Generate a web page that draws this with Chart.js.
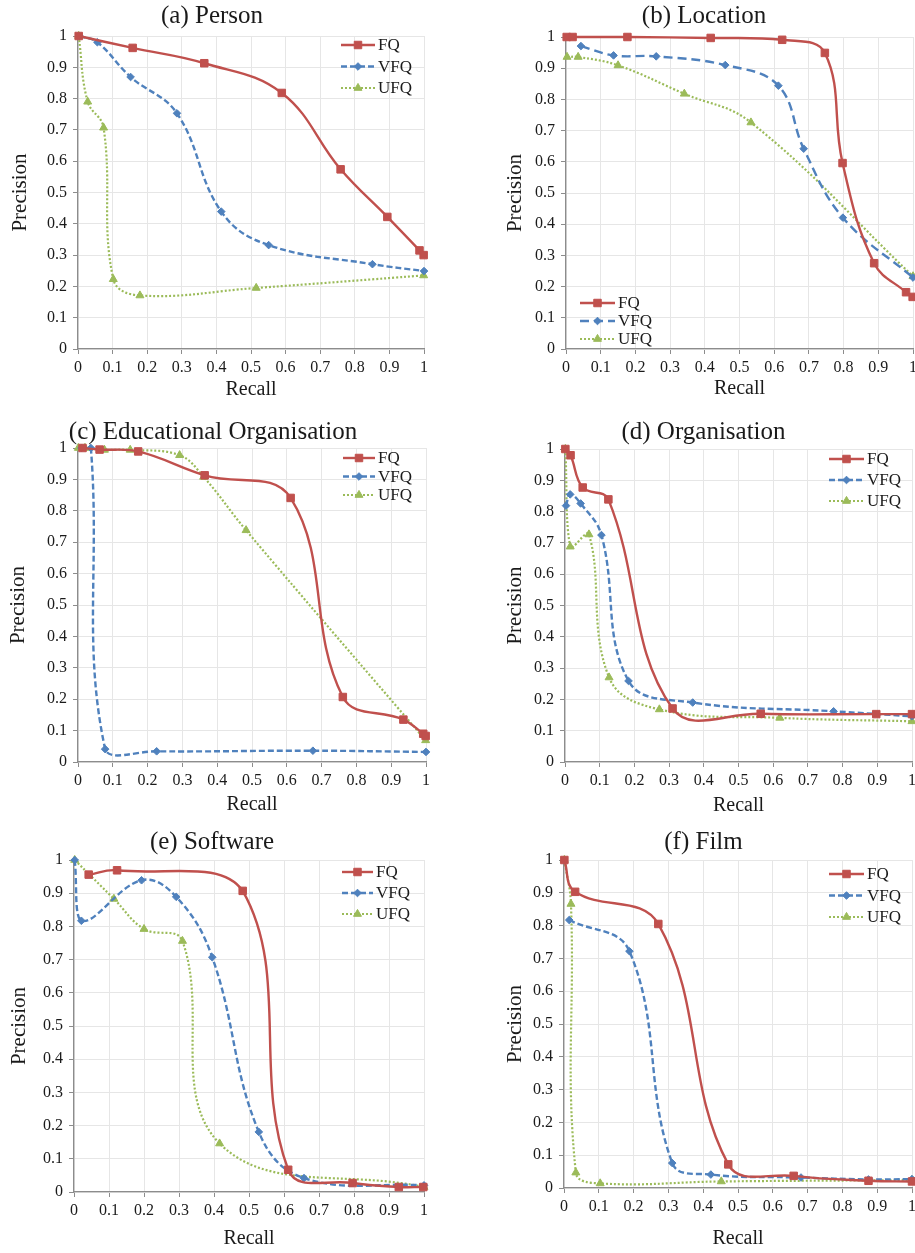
<!DOCTYPE html>
<html>
<head>
<meta charset="utf-8">
<title>Precision / Recall</title>
<script src="https://cdn.jsdelivr.net/npm/chart.js@4.4.1/dist/chart.umd.min.js"></script>
<style>
  html, body { margin: 0; padding: 0; background: #fff; }
  body { width: 915px; height: 1253px; position: relative; overflow: hidden; }
  canvas { position: absolute; }
</style>
</head>
<body>
<script>
const seriesNames = ['FQ', 'VFQ', 'UFQ'];
const panelTitles = ['(a) Person', '(b) Location', '(c) Educational Organisation', '(d) Organisation', '(e) Software', '(f) Film'];
const tickLabels = ['0', '0.1', '0.2', '0.3', '0.4', '0.5', '0.6', '0.7', '0.8', '0.9', '1'];

// [recall, precision]
const personFQ  = [[0.002, 1.0], [0.158, 0.962], [0.365, 0.913], [0.589, 0.818], [0.759, 0.574], [0.894, 0.422], [0.987, 0.315], [0.999, 0.300]];
const personVFQ = [[0.004, 1.0], [0.056, 0.980], [0.152, 0.869], [0.286, 0.753], [0.414, 0.439], [0.551, 0.332], [0.851, 0.271], [1.0, 0.249]];
const personUFQ = [[0.002, 1.0], [0.028, 0.790], [0.074, 0.707], [0.102, 0.223], [0.179, 0.171], [0.515, 0.195], [0.999, 0.235]];

const locationFQ  = [[0.002, 1.0], [0.019, 1.0], [0.177, 1.0], [0.417, 0.997], [0.623, 0.991], [0.746, 0.949], [0.797, 0.596], [0.888, 0.275], [0.980, 0.182], [0.999, 0.167]];
const locationVFQ = [[0.043, 0.971], [0.137, 0.941], [0.260, 0.938], [0.459, 0.910], [0.612, 0.844], [0.685, 0.642], [0.798, 0.421], [1.0, 0.229]];
const locationUFQ = [[0.003, 0.936], [0.035, 0.936], [0.150, 0.909], [0.341, 0.818], [0.533, 0.726], [1.0, 0.233]];

const eduFQ  = [[0.013, 1.0], [0.062, 0.995], [0.173, 0.989], [0.364, 0.913], [0.611, 0.841], [0.761, 0.207], [0.935, 0.135], [0.992, 0.090], [0.999, 0.083]];
const eduVFQ = [[0.010, 1.0], [0.037, 1.0], [0.078, 0.041], [0.226, 0.034], [0.675, 0.036], [1.0, 0.032]];
const eduUFQ = [[0.001, 1.0], [0.020, 1.0], [0.076, 0.994], [0.150, 0.994], [0.292, 0.977], [0.361, 0.908], [0.483, 0.738], [0.999, 0.069]];

const orgFQ  = [[0.001, 1.0], [0.016, 0.980], [0.051, 0.877], [0.125, 0.839], [0.310, 0.171], [0.564, 0.154], [0.897, 0.153], [1.0, 0.153]];
const orgVFQ = [[0.003, 0.819], [0.015, 0.855], [0.045, 0.826], [0.105, 0.725], [0.183, 0.259], [0.368, 0.190], [0.774, 0.162], [1.0, 0.146]];
const orgUFQ = [[0.001, 1.0], [0.015, 0.688], [0.069, 0.727], [0.127, 0.270], [0.272, 0.168], [0.619, 0.141], [1.0, 0.130]];

const softwareFQ  = [[0.042, 0.956], [0.123, 0.969], [0.482, 0.907], [0.612, 0.067], [0.796, 0.027], [0.928, 0.015], [0.998, 0.015]];
const softwareVFQ = [[0.002, 1.0], [0.021, 0.817], [0.193, 0.939], [0.292, 0.889], [0.395, 0.707], [0.528, 0.181], [0.657, 0.042], [1.0, 0.020]];
const softwareUFQ = [[0.002, 1.0], [0.114, 0.883], [0.200, 0.792], [0.310, 0.756], [0.416, 0.146], [1.0, 0.015]];

const filmFQ  = [[0.001, 1.0], [0.032, 0.903], [0.271, 0.805], [0.472, 0.072], [0.660, 0.037], [0.875, 0.022], [1.0, 0.020]];
const filmVFQ = [[0.015, 0.817], [0.188, 0.722], [0.311, 0.076], [0.422, 0.041], [0.681, 0.032], [0.875, 0.026], [1.0, 0.027]];
const filmUFQ = [[0.001, 1.0], [0.020, 0.866], [0.034, 0.047], [0.104, 0.014], [0.452, 0.020], [1.0, 0.024]];

const panelData = [
  [personFQ, personVFQ, personUFQ],
  [locationFQ, locationVFQ, locationUFQ],
  [eduFQ, eduVFQ, eduUFQ],
  [orgFQ, orgVFQ, orgUFQ],
  [softwareFQ, softwareVFQ, softwareUFQ],
  [filmFQ, filmVFQ, filmUFQ]
];

// page placement of each panel: plot area [l, t, r, b], title centre, axis title centres, legend
const layout = [
  { area: [78, 36, 424, 349],  left: 0,   bottom: 405,  titleX: 250, titleY: 16,  precX: 20,  recallY: 390,  legend: [341, 45, 21.5, 34], dash: [6, 3] },
  { area: [566, 37, 913, 349], left: 495, bottom: 405,  titleX: 750, titleY: 16,  precX: 515, recallY: 389,  legend: [580, 303, 18, 35], dash: [9, 5] },
  { area: [78, 448, 426, 762], left: 0,   bottom: 820,  titleX: 245, titleY: 432, precX: 18,  recallY: 805,  legend: [343, 458, 18.5, 32], dash: [6, 3] },
  { area: [565, 449, 912, 762], left: 495, bottom: 820, titleX: 747, titleY: 432, precX: 515, recallY: 806,  legend: [829, 459, 21, 35], dash: [6, 3] },
  { area: [74, 860, 424, 1192], left: 0,   bottom: 1253, titleX: 252, titleY: 842, precX: 19,  recallY: 1239, legend: [342, 872, 21, 31], dash: [6, 3] },
  { area: [564, 860, 912, 1188], left: 495, bottom: 1253, titleX: 726, titleY: 842, precX: 515, recallY: 1239, legend: [829, 874, 21.5, 35], dash: [6, 3] }
];

const colors = ['#C0504D', '#4F81BD', '#9BBB59'];
const styles = ['rect', 'rectRot', 'triangle'];
const radii = [5.3, 3.8, 4.6];
const serif = '"Liberation Serif", "Times New Roman", serif';

const insideLegend = {
  id: 'insideLegend',
  afterDatasetsDraw(chart, args, opts) {
    const ctx = chart.ctx;
    ctx.save();
    chart.data.datasets.forEach((ds, i) => {
      const y = opts.y + i * opts.dy;
      ctx.strokeStyle = ds.borderColor;
      ctx.lineWidth = ds.borderWidth;
      ctx.setLineDash(ds.borderDash || []);
      ctx.beginPath();
      ctx.moveTo(opts.x, y);
      ctx.lineTo(opts.x + opts.w, y);
      ctx.stroke();
      ctx.setLineDash([]);
      ctx.fillStyle = ds.pointBackgroundColor;
      ctx.lineWidth = ds.pointBorderWidth;
      Chart.helpers.drawPoint(ctx, { pointStyle: ds.pointStyle, radius: ds.pointRadius, rotation: 0, borderWidth: ds.pointBorderWidth }, opts.x + opts.w / 2, y);
      ctx.fillStyle = '#1a1a1a';
      ctx.font = '17px ' + serif;
      ctx.textBaseline = 'middle';
      ctx.textAlign = 'left';
      ctx.fillText(ds.label, opts.x + opts.w + 3, y + 1);
    });
    ctx.restore();
  }
};

panelData.forEach((series, p) => {
  const L = layout[p];
  const top = Math.round(L.titleY - 16);
  const width = 2 * (L.titleX - L.left);
  const height = L.bottom - top;
  const yWidth = L.area[0] - L.left;
  const xHeight = L.bottom - L.area[3];

  const canvas = document.createElement('canvas');
  canvas.width = width;
  canvas.height = height;
  canvas.style.left = L.left + 'px';
  canvas.style.top = top + 'px';
  canvas.style.width = width + 'px';
  canvas.style.height = height + 'px';
  document.body.appendChild(canvas);

  const datasets = series.map((pts, k) => ({
    label: seriesNames[k],
    data: pts.map(([x, y]) => ({ x, y })),
    showLine: true,
    borderColor: colors[k],
    backgroundColor: colors[k],
    borderWidth: k === 2 ? 2.2 : 2.4,
    borderDash: k === 0 ? [] : (k === 1 ? L.dash : [2, 2]),
    pointStyle: styles[k],
    pointRadius: radii[k],
    pointBorderWidth: 1,
    pointBackgroundColor: colors[k],
    pointBorderColor: colors[k],
    tension: 0.4,
    clip: false
  }));

  const axisCommon = {
    type: 'linear',
    min: 0,
    max: 1,
    grid: { color: '#E6E6E6', lineWidth: 1, tickLength: 5, tickColor: '#8C8C8C' },
    border: { color: '#8C8C8C', width: 1.3 }
  };

  new Chart(canvas.getContext('2d'), {
    type: 'scatter',
    data: { datasets },
    options: {
      responsive: false,
      animation: false,
      events: [],
      layout: { padding: { left: 0, top: 0, right: width - (L.area[2] - L.left), bottom: 0 } },
      scales: {
        x: {
          ...axisCommon,
          ticks: { stepSize: 0.1, autoSkip: false, maxRotation: 0, padding: 4, color: '#1a1a1a', font: { family: serif, size: 16 }, callback: (v, i) => tickLabels[i] },
          title: { display: true, text: 'Recall', color: '#1a1a1a', font: { family: serif, size: 20 }, padding: { top: 0, bottom: L.bottom - L.recallY - 12 } },
          afterFit: s => { s.height = xHeight; s.paddingLeft = 0; s.paddingRight = 0; }
        },
        y: {
          ...axisCommon,
          ticks: { stepSize: 0.1, autoSkip: false, padding: 6, color: '#1a1a1a', font: { family: serif, size: 16 }, callback: (v, i) => tickLabels[i] },
          title: { display: true, text: 'Precision', color: '#1a1a1a', font: { family: serif, size: 21 }, padding: { top: L.precX - L.left - 12.6, bottom: 0 } },
          afterFit: s => { s.width = yWidth; s.paddingTop = 0; s.paddingBottom = 0; }
        }
      },
      plugins: {
        legend: { display: false },
        tooltip: { enabled: false },
        title: {
          display: true,
          text: panelTitles[p],
          color: '#1a1a1a',
          font: { family: serif, size: 25, weight: 'normal' },
          padding: { top: L.titleY - top - 15, bottom: L.area[1] - L.titleY - 15 }
        },
        insideLegend: { x: L.legend[0] - L.left, y: L.legend[1] - top, dy: L.legend[2], w: L.legend[3] }
      }
    },
    plugins: [insideLegend]
  });
});
</script>
</body>
</html>
